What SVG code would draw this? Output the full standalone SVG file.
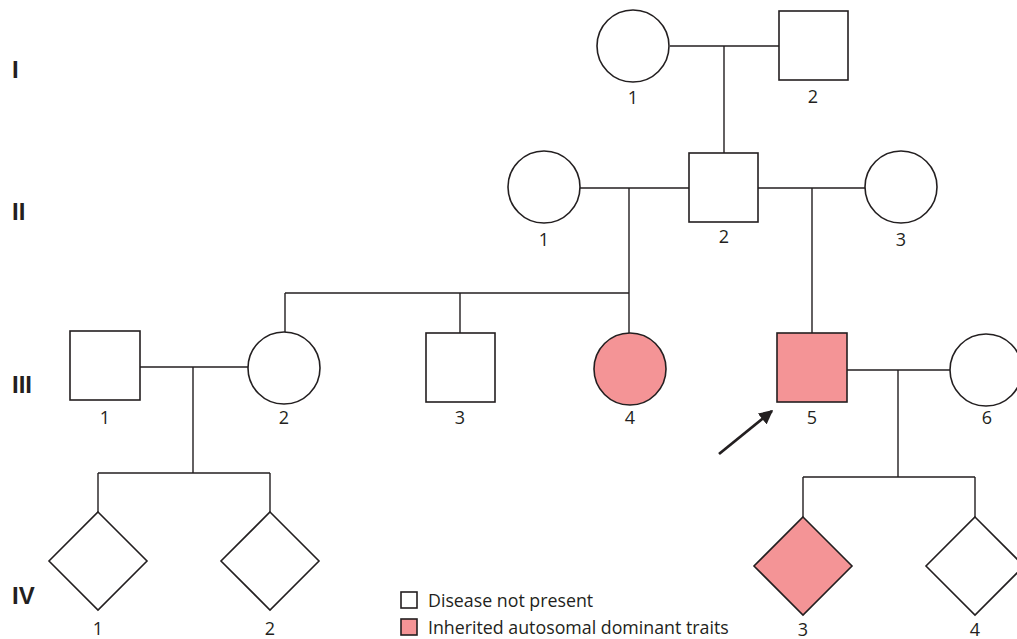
<svg xmlns="http://www.w3.org/2000/svg" width="1017" height="639" viewBox="0 0 1017 639">
<defs>
<style>
.s{fill:#fff;stroke:#231f20;stroke-width:1.6}
.a{fill:#f49496;stroke:#231f20;stroke-width:1.6}
.l{fill:none;stroke:#231f20;stroke-width:1.4}
.t{font-family:"Open Sans","Liberation Sans",sans-serif;font-size:18px;fill:#231f20;text-anchor:middle}
.g{font-family:"Liberation Sans",sans-serif;font-size:24px;font-weight:bold;fill:#231f20}
.lg{font-family:"Open Sans","Liberation Sans",sans-serif;font-size:17.8px;fill:#231f20}
</style>
<marker id="ah" viewBox="0 0 10 10" refX="9" refY="5" markerWidth="5" markerHeight="5" orient="auto" markerUnits="strokeWidth">
<path d="M0,0 L10,5 L0,10 Z" fill="#231f20"/>
</marker>
</defs>
<rect width="1017" height="639" fill="#fff"/>
<g id="gen-labels">
<text class="g" x="12" y="78">I</text>
<text class="g" x="12" y="220">II</text>
<text class="g" x="12" y="393">III</text>
<text class="g" x="12" y="604">IV</text>
</g>
<g id="connectors">
<path class="l" d="M670,46 H779 M724,46 V153"/>
<path class="l" d="M580,188 H689 M629,188 V293 M758,188 H865 M812,188 V333"/>
<path class="l" d="M285,293 H629 M285,293 V332 M460,293 V333 M629,293 V333"/>
<path class="l" d="M140,367 H248 M193,367 V473 M98,473 H270 M98,473 V512 M270,473 V512"/>
<path class="l" d="M847,370 H950 M898,370 V477 M803,477 H975 M803,477 V517 M975,477 V517"/>
<line x1="719" y1="454" x2="772" y2="411" stroke="#231f20" stroke-width="2.8" marker-end="url(#ah)"/>
</g>
<g id="I-1"><circle class="s" cx="633" cy="46" r="36"/><text class="t" x="633" y="104">1</text></g>
<g id="I-2"><rect class="s" x="779" y="11" width="69" height="69"/><text class="t" x="813" y="103">2</text></g>
<g id="II-1"><circle class="s" cx="544" cy="187" r="36"/><text class="t" x="544" y="246">1</text></g>
<g id="II-2"><rect class="s" x="689" y="153" width="69" height="69"/><text class="t" x="724" y="243">2</text></g>
<g id="II-3"><circle class="s" cx="901" cy="187" r="36"/><text class="t" x="901" y="246">3</text></g>
<g id="III-1"><rect class="s" x="70" y="331" width="70" height="69"/><text class="t" x="105" y="424">1</text></g>
<g id="III-2"><circle class="s" cx="284" cy="368" r="36"/><text class="t" x="284" y="424">2</text></g>
<g id="III-3"><rect class="s" x="426" y="333" width="69" height="69"/><text class="t" x="460" y="424">3</text></g>
<g id="III-4"><circle class="a" cx="630" cy="369" r="36"/><text class="t" x="630" y="424">4</text></g>
<g id="III-5"><rect class="a" x="777" y="333" width="70" height="69"/><text class="t" x="812" y="424">5</text></g>
<g id="III-6"><circle class="s" cx="986" cy="370" r="36"/><text class="t" x="987" y="424">6</text></g>
<g id="IV-1"><path class="s" d="M98,512 L147,561 L98,610 L49,561 Z"/><text class="t" x="98" y="635">1</text></g>
<g id="IV-2"><path class="s" d="M270,512 L319,561 L270,610 L221,561 Z"/><text class="t" x="270" y="635">2</text></g>
<g id="IV-3"><path class="a" d="M803,517 L852,566 L803,615 L754,566 Z"/><text class="t" x="803" y="636">3</text></g>
<g id="IV-4"><path class="s" d="M975,517 L1024,566 L975,615 L926,566 Z"/><text class="t" x="975" y="636">4</text></g>
<g id="legend">
<rect class="s" x="401" y="592" width="16" height="16" stroke-width="1.3"/>
<text class="lg" x="428" y="607">Disease not present</text>
<rect class="a" x="401" y="619" width="16" height="16" stroke-width="1.3"/>
<text class="lg" x="428" y="634">Inherited autosomal dominant traits</text>
</g>
</svg>
